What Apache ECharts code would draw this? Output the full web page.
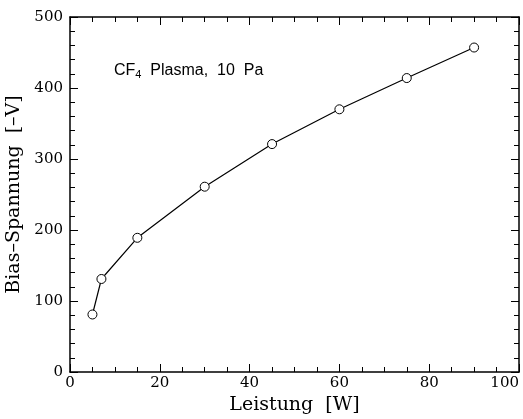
<!DOCTYPE html>
<html><head><meta charset="utf-8">
<script src="https://cdn.jsdelivr.net/npm/echarts@6/dist/echarts.min.js"></script>
<style>html,body{margin:0;padding:0;background:#fff}#c{width:523px;height:419px}</style>
</head><body><div id="c"></div>
<script>
const powerW = [5, 7, 15, 30, 45, 60, 75, 90];
const biasV = [81, 131, 189, 261, 321, 370, 414, 457];
const xTitle = 'Leistung  [W]';
const yTitle = 'Bias–Spannung  [–V]';
const annotation = ['CF', '4', '  Plasma,  10  Pa'];

const serif = 'DejaVu Serif';
const chart = echarts.init(document.getElementById('c'), null, {renderer: 'canvas'});
const axisCommon = {
  axisLine: {show: true, onZero: false, lineStyle: {color: '#000', width: 1.5}},
  axisTick: {show: true, inside: true, length: 8, lineStyle: {color: '#000', width: 1}},
  minorTick: {show: true, length: 5, lineStyle: {color: '#000', width: 1}},
  splitLine: {show: false}
};
chart.setOption({
  animation: false,
  backgroundColor: '#fff',
  grid: {left: 70, right: 4, top: 17, bottom: 47, containLabel: false, outerBoundsMode: 'none'},
  xAxis: [
    Object.assign({}, axisCommon, {
      type: 'value', min: 0, max: 100, interval: 20, position: 'bottom',
      minorTick: Object.assign({}, axisCommon.minorTick, {splitNumber: 4}),
      axisLabel: {color: '#000', fontFamily: serif, fontSize: 15, margin: 4, alignMaxLabel: 'right'},
      name: xTitle, nameLocation: 'middle', nameGap: 23,
      nameTextStyle: {color: '#000', fontFamily: serif, fontSize: 19}
    }),
    Object.assign({}, axisCommon, {
      type: 'value', min: 0, max: 100, interval: 20, position: 'top',
      minorTick: Object.assign({}, axisCommon.minorTick, {splitNumber: 4}),
      axisLabel: {show: false}
    })
  ],
  yAxis: [
    Object.assign({}, axisCommon, {
      type: 'value', min: 0, max: 500, interval: 100, position: 'left',
      minorTick: Object.assign({}, axisCommon.minorTick, {splitNumber: 5}),
      axisLabel: {color: '#000', fontFamily: serif, fontSize: 15, margin: 7},
      name: yTitle, nameLocation: 'middle', nameGap: 43, nameRotate: 90,
      nameTextStyle: {color: '#000', fontFamily: serif, fontSize: 19}
    }),
    Object.assign({}, axisCommon, {
      type: 'value', min: 0, max: 500, interval: 100, position: 'right',
      minorTick: Object.assign({}, axisCommon.minorTick, {splitNumber: 5}),
      axisLabel: {show: false}
    })
  ],
  graphic: [{
    type: 'text', left: 114, top: 63,
    style: {
      text: '{a|' + annotation[0] + '}{s|' + annotation[1] + '}{a|' + annotation[2] + '}',
      rich: {
        a: {fontFamily: 'Liberation Sans', fontSize: 16, fill: '#000', color: '#000'},
        s: {fontFamily: 'Liberation Sans', fontSize: 11, fill: '#000', color: '#000', padding: [8, 0, 0, 0]}
      }
    }
  }],
  series: [{
    type: 'line',
    data: powerW.map((x, i) => [x, biasV[i]]),
    symbol: 'circle', symbolSize: 9,
    lineStyle: {color: '#000', width: 1.2},
    itemStyle: {color: '#fff', borderColor: '#000', borderWidth: 1},
    emphasis: {disabled: true}
  }]
});
</script></body></html>
